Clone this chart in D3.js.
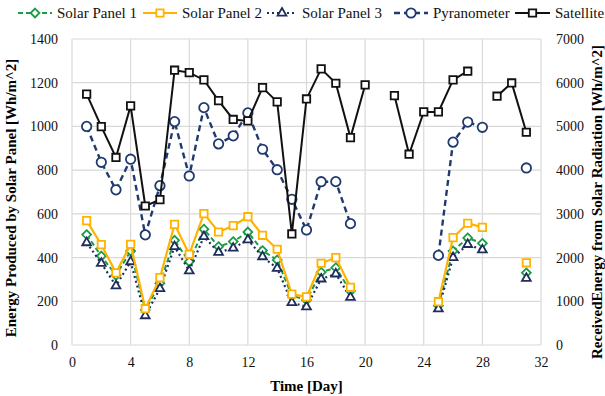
<!DOCTYPE html>
<html>
<head>
<meta charset="utf-8">
<script src="https://cdn.jsdelivr.net/npm/d3@7"></script>
<style>
  body { margin: 0; background: #fff; }
  text { font-family: "Liberation Serif", "Times New Roman", serif; }
</style>
</head>
<body>
<svg id="chart" width="605" height="396"></svg>
<script>
// days 1..31, null = no reading
const days = d3.range(1, 32)

const solarPanel1 = [505, 407, 319, 430, 160, 282, 479, 381, 530, 450, 473, 517, 432, 389, 226, 206, 333, 354, 247,
  null, null, null, null, null, 180, 430, 490, 465, null, null, 330]
const solarPanel2 = [569, 459, 330, 461, 166, 308, 552, 415, 601, 517, 546, 587, 502, 438, 233, 220, 374, 400, 264,
  null, null, null, null, null, 198, 491, 557, 538, null, null, 376]
const solarPanel3 = [468, 374, 271, 381, 134, 258, 450, 339, 496, 424, 443, 481, 404, 351, 194, 175, 302, 325, 218,
  null, null, null, null, null, 165, 400, 460, 435, null, null, 305]
const pyranometer = [5000, 4180, 3550, 4250, 2520, 3645, 5110, 3867, 5430, 4600, 4785, 5310, 4478, 4010, 3334, 2632, 3735, 3737, 2776,
  null, null, null, null, null, 2050, 4640, 5100, 4980, null, null, 4050]
const satellite = [5740, 4995, 4290, 5470, 3180, 3325, 6286, 6231, 6064, 5590, 5160, 5126, 5888, 5561, 2540, 5629, 6316, 5988, 4744,
  5950, null, 5705, 4364, 5332, 5332, 6064, 6263, null, 5691, 5995, 4867]

const xTicks = [0, 4, 8, 12, 16, 20, 24, 28, 32]
const leftTicks = [0, 200, 400, 600, 800, 1000, 1200, 1400]
const rightTicks = [0, 1000, 2000, 3000, 4000, 5000, 6000, 7000]

const svg = d3.select("#chart")
const pLeft = 72, pRight = 541, pTop = 39, pBottom = 345
const serif = "'Liberation Serif', 'Times New Roman', serif"

const x = d3.scaleLinear().domain([0, 32]).range([pLeft, pRight])
const yL = d3.scaleLinear().domain([0, 1400]).range([pBottom, pTop])
const yR = d3.scaleLinear().domain([0, 7000]).range([pBottom, pTop])

// grid
const grid = svg.append("g")
grid.selectAll(".h").data(leftTicks).join("line")
  .attr("x1", pLeft).attr("x2", pRight)
  .attr("y1", d => yL(d)).attr("y2", d => yL(d))
  .attr("stroke", "#d9d9d9").attr("stroke-width", 1.2)
grid.selectAll(".v").data(xTicks).join("line")
  .attr("x1", d => x(d)).attr("x2", d => x(d))
  .attr("y1", pTop).attr("y2", pBottom)
  .attr("stroke", "#d9d9d9").attr("stroke-width", 1.2)

// axes (labels only, grid draws the lines)
const fmt = d3.format("d")
const axB = svg.append("g").attr("transform", `translate(0,${pBottom})`)
  .call(d3.axisBottom(x).tickValues(xTicks).tickFormat(fmt).tickSize(0).tickPadding(12))
const axL = svg.append("g").attr("transform", `translate(${pLeft},0)`)
  .call(d3.axisLeft(yL).tickValues(leftTicks).tickFormat(fmt).tickSize(0).tickPadding(14))
const axR = svg.append("g").attr("transform", `translate(${pRight},0)`)
  .call(d3.axisRight(yR).tickValues(rightTicks).tickFormat(fmt).tickSize(0).tickPadding(15))
for (const a of [axB, axL, axR]) {
  a.attr("font-family", null)
  a.select(".domain").remove()
  a.selectAll("text").style("font-family", serif).style("font-size", "14px").attr("fill", "#111")
}

// titles
svg.append("text").attr("x", (pLeft + pRight) / 2).attr("y", 391)
  .attr("text-anchor", "middle").attr("font-weight", "bold").attr("font-size", 15)
  .text("Time [Day]")
svg.append("text").attr("transform", "translate(16,198) rotate(-90)")
  .attr("text-anchor", "middle").attr("font-weight", "bold").attr("font-size", 15)
  .text("Energy Produced by Solar Panel [Wh/m^2]")
svg.append("text").attr("transform", "translate(602,202) rotate(-90)")
  .attr("text-anchor", "middle").attr("font-weight", "bold").attr("font-size", 15)
  .text("ReceivedEnergy from Solar Radiation [Wh/m^2]")

const series = [
  { name: "Solar Panel 1", vals: solarPanel1, y: yL, color: "#1a9b45", dash: "5,3", width: 2, marker: "diamond" },
  { name: "Solar Panel 2", vals: solarPanel2, y: yL, color: "#ffb300", dash: null, width: 2.2, marker: "square" },
  { name: "Solar Panel 3", vals: solarPanel3, y: yL, color: "#1f2d5c", dash: "2,3", width: 2.2, marker: "triangle" },
  { name: "Pyranometer", vals: pyranometer, y: yR, color: "#1f3a6e", dash: "6,4", width: 2.4, marker: "circle" },
  { name: "Satellite", vals: satellite, y: yR, color: "#111", dash: null, width: 2, marker: "square" }
]

const symbols = {
  diamond: d3.symbol().type(d3.symbolDiamond2).size(50),
  square: d3.symbol().type(d3.symbolSquare2).size(70),
  triangle: d3.symbol().type(d3.symbolTriangle2).size(55),
  circle: d3.symbol().type(d3.symbolCircle).size(70)
}

// draw in order so satellite and pyranometer sit on top as in the picture
const order = [0, 2, 1, 3, 4]
for (const i of order) {
  const s = series[i]
  const pts = days.map((d, k) => ({ d, v: s.vals[k] }))
  const line = d3.line().defined(p => p.v != null).x(p => x(p.d)).y(p => s.y(p.v))
  svg.append("path").datum(pts).attr("d", line)
    .attr("fill", "none").attr("stroke", s.color).attr("stroke-width", s.width)
    .attr("stroke-dasharray", s.dash)
  svg.append("g").selectAll("path").data(pts.filter(p => p.v != null)).join("path")
    .attr("transform", p => `translate(${x(p.d)},${s.y(p.v)})`)
    .attr("d", symbols[s.marker]())
    .attr("fill", "#fff").attr("stroke", s.color).attr("stroke-width", 1.8)
}

// legend
const legX = [18, 143, 267, 394, 515]
const legW = [34, 34, 30, 34, 35]
const leg = svg.append("g")
series.forEach((s, i) => {
  const g = leg.append("g").attr("transform", `translate(${legX[i]},13)`)
  g.append("line").attr("x1", 0).attr("x2", legW[i]).attr("y1", 0).attr("y2", 0)
    .attr("stroke", s.color).attr("stroke-width", s.width).attr("stroke-dasharray", s.dash)
  g.append("path").attr("transform", `translate(${legW[i] / 2},0)`)
    .attr("d", symbols[s.marker]())
    .attr("fill", "#fff").attr("stroke", s.color).attr("stroke-width", 1.8)
  g.append("text").attr("x", legW[i] + 5).attr("y", 5).attr("font-size", 15).attr("fill", "#111")
    .text(s.name)
})
</script>
</body>
</html>
